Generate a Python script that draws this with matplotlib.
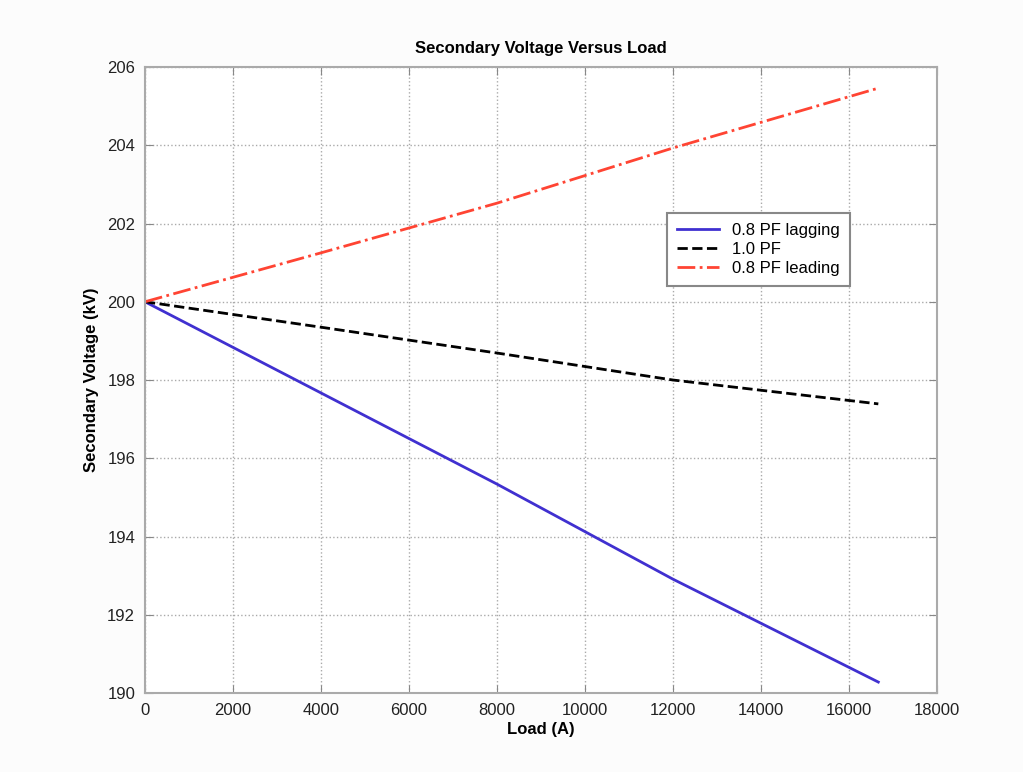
import matplotlib
matplotlib.use("Agg")
import matplotlib.pyplot as plt

plt.rcParams['font.family'] = ['Liberation Sans', 'DejaVu Sans']

load = [0, 4000, 8000, 12000, 16667]
v_lag = [200.0, 197.67, 195.34, 192.91, 190.28]
v_unity = [200.0, 199.35, 198.69, 198.0, 197.39]
v_lead = [200.0, 201.25, 202.52, 203.93, 205.46]

xticks = list(range(0, 18001, 2000))
yticks = list(range(190, 207, 2))

fig = plt.figure(figsize=(10.23, 7.72), dpi=100, facecolor='#fcfcfc')
ax = fig.add_axes([0.1417, 0.1023, 0.7742, 0.8109])
ax.set_facecolor('white')

ax.plot(load, v_lag, color='#4030d0', lw=2, label='0.8 PF lagging')
ax.plot(load, v_unity, color='black', lw=2, ls='--', label='1.0 PF')
ax.plot(load, v_lead, color='#ff4433', lw=2, ls='-.', label='0.8 PF leading')

ax.set_xlim(0, 18000)
ax.set_ylim(190, 206)
ax.set_xticks(xticks)
ax.set_yticks(yticks)
ax.tick_params(direction='in', top=True, right=True, labelsize=12, length=6,
               color='#888888', labelcolor='#222222', pad=7)
ax.grid(True, ls=':', color='#aaaaaa', lw=1)
for s in ax.spines.values():
    s.set_color('#aaaaaa')
    s.set_linewidth(1.5)

ax.set_title('Secondary Voltage Versus Load', fontsize=12, fontweight='bold', pad=10)
ax.set_xlabel('Load (A)', fontsize=12, fontweight='bold', labelpad=3)
ax.set_ylabel('Secondary Voltage (kV)', fontsize=12, fontweight='bold', labelpad=6)

leg = ax.legend(loc='upper left', bbox_to_anchor=(0.659, 0.767), borderaxespad=0,
                fontsize=12, fancybox=False, framealpha=1, edgecolor='#888888',
                handlelength=2.5, borderpad=0.6, labelspacing=0.25)
leg.get_frame().set_linewidth(1.5)

fig.savefig('out.png', dpi=100, facecolor=fig.get_facecolor())
